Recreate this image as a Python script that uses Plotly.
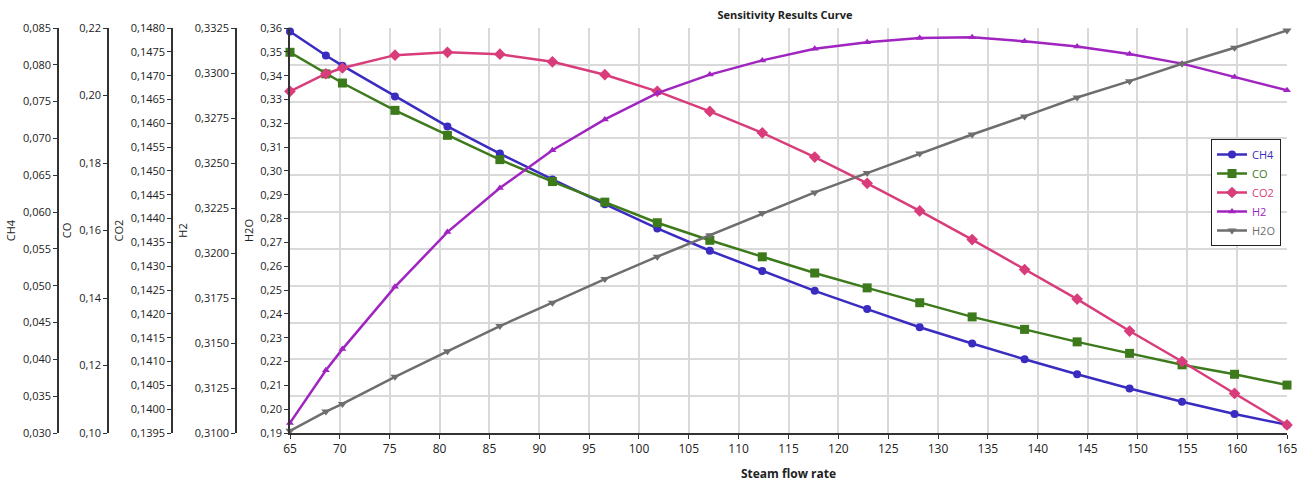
import plotly.graph_objects as go

steam_flow = [65, 68.6, 70.26, 75.53, 80.79, 86.05, 91.32, 96.58, 101.84, 107.11, 112.37,
              117.63, 122.89, 128.16, 133.42, 138.68, 143.95, 149.21, 154.47, 159.74, 165]

ch4 = [0.08451, 0.08126, 0.07989, 0.07571, 0.07164, 0.06795, 0.06443, 0.06108, 0.05778, 0.05475,
       0.05200, 0.04931, 0.04683, 0.04436, 0.04216, 0.04001, 0.03798, 0.03605, 0.03424, 0.03259, 0.03110]
co = [0.2128, 0.2064, 0.2037, 0.1956, 0.1882, 0.1810, 0.1745, 0.1684, 0.1623, 0.1571, 0.1522,
      0.1474, 0.1430, 0.1386, 0.1344, 0.1307, 0.1270, 0.1236, 0.1202, 0.1174, 0.1142]
co2 = [0.14667, 0.14704, 0.14716, 0.14743, 0.14749, 0.14745, 0.14729, 0.14702, 0.14667, 0.14625,
       0.14580, 0.14529, 0.14474, 0.14416, 0.14356, 0.14293, 0.14231, 0.14164, 0.14100, 0.14033, 0.13967]
h2 = [0.31056, 0.31349, 0.31466, 0.31812, 0.32116, 0.32361, 0.32571, 0.32742, 0.32888, 0.32991,
      0.33070, 0.33135, 0.33171, 0.33194, 0.33198, 0.33176, 0.33147, 0.33106, 0.33052, 0.32978, 0.32904]
h2o = [0.1909, 0.1990, 0.2022, 0.2136, 0.2243, 0.2349, 0.2447, 0.2546, 0.2640, 0.2730, 0.2823,
       0.2910, 0.2991, 0.3073, 0.3153, 0.3229, 0.3308, 0.3377, 0.3450, 0.3517, 0.3590]

series_names = ["CH4", "CO", "CO2", "H2", "H2O"]
colors = ["#3a2cc0", "#3d7a1c", "#d93c7a", "#a024c0", "#6e6e6e"]
symbols = ["circle", "square", "diamond", "triangle-up", "triangle-down"]
sizes = [8, 9, 9, 7, 8]
axis_ranges = [(0.030, 0.085), (0.10, 0.22), (0.1395, 0.1480), (0.3100, 0.3325), (0.19, 0.36)]
axis_dticks = [0.005, 0.02, 0.0005, 0.0025, 0.01]
axis_formats = [".3f", ".2f", ".4f", ".4f", ".2f"]

FONT = "Open Sans, Noto Sans, sans-serif"
W, H = 1297, 486
PLOT_L, PLOT_R, PLOT_T, PLOT_B = 290, 1287, 28, 433
MT, MB = PLOT_T, H - PLOT_B
PH = H - MT - MB
axis_px = [58, 108, 172, 236, PLOT_L]

fig = go.Figure()
data = [ch4, co, co2, h2, h2o]
for i, (name, vals) in enumerate(zip(series_names, data)):
    fig.add_trace(go.Scatter(
        x=steam_flow, y=vals,
        name=f"<span style='color:{colors[i]}'>{name}</span>",
        mode="lines+markers",
        line=dict(color=colors[i], width=2.5),
        marker=dict(symbol=symbols[i], size=sizes[i], color=colors[i]),
        yaxis="y" if i == 0 else f"y{i+1}",
        cliponaxis=False,
    ))

layout = dict(
    width=W, height=H,
    margin=dict(l=0, r=0, t=MT, b=MB, autoexpand=False),
    paper_bgcolor="white", plot_bgcolor="white",
    separators=",.",
    font=dict(family=FONT, size=11, color="#222"),
    title=dict(text="<b>Sensitivity Results Curve</b>", x=785 / W, xanchor="center",
               y=1 - 15 / H, yanchor="middle", font=dict(size=11, color="#222"),
               automargin=False),
    showlegend=True,
    legend=dict(x=1211 / W, y=(PLOT_B - 139) / PH, xanchor="left", yanchor="top",
                bordercolor="#222", borderwidth=1, bgcolor="white",
                font=dict(size=11), tracegroupgap=0, itemwidth=30),
    xaxis=dict(domain=[PLOT_L / W, PLOT_R / W], range=[65, 165], dtick=5, tick0=65,
               showgrid=True, gridcolor="#d9d9d9", gridwidth=1.5,
               showline=True, linecolor="#333", linewidth=1.5,
               ticks="outside", ticklen=4, tickcolor="#333",
               tickfont=dict(size=12), zeroline=False, automargin=False,
               ticklabeloverflow="allow",
               title=dict(text="<b>Steam flow rate</b>", font=dict(size=12), standoff=13)),
)
for i in range(5):
    key = "yaxis" if i == 0 else f"yaxis{i+1}"
    lo, hi = axis_ranges[i]
    eps = (hi - lo) * 1e-6
    ax = dict(
        range=[lo - eps, hi + eps], dtick=axis_dticks[i], tick0=lo,
        tickformat=axis_formats[i],
        showline=True, linecolor="#333", linewidth=1.5,
        ticks="outside", ticklen=4, tickcolor="#333",
        tickfont=dict(size=11), zeroline=False, automargin=False,
        showgrid=(i == 0), gridcolor="#d9d9d9", gridwidth=1.5,
        title=dict(text=series_names[i], font=dict(size=11), standoff=4),
        side="left",
    )
    if i == 4:
        ax["anchor"] = "x"
    else:
        ax["anchor"] = "free"
        ax["position"] = axis_px[i] / W
    if i > 0:
        ax["overlaying"] = "y"
    layout[key] = ax

fig.update_layout(**layout)
fig.write_html("out.html",
               config={"displayModeBar": False},
               post_script="document.body.style.margin='0';document.body.style.overflow='hidden';")
